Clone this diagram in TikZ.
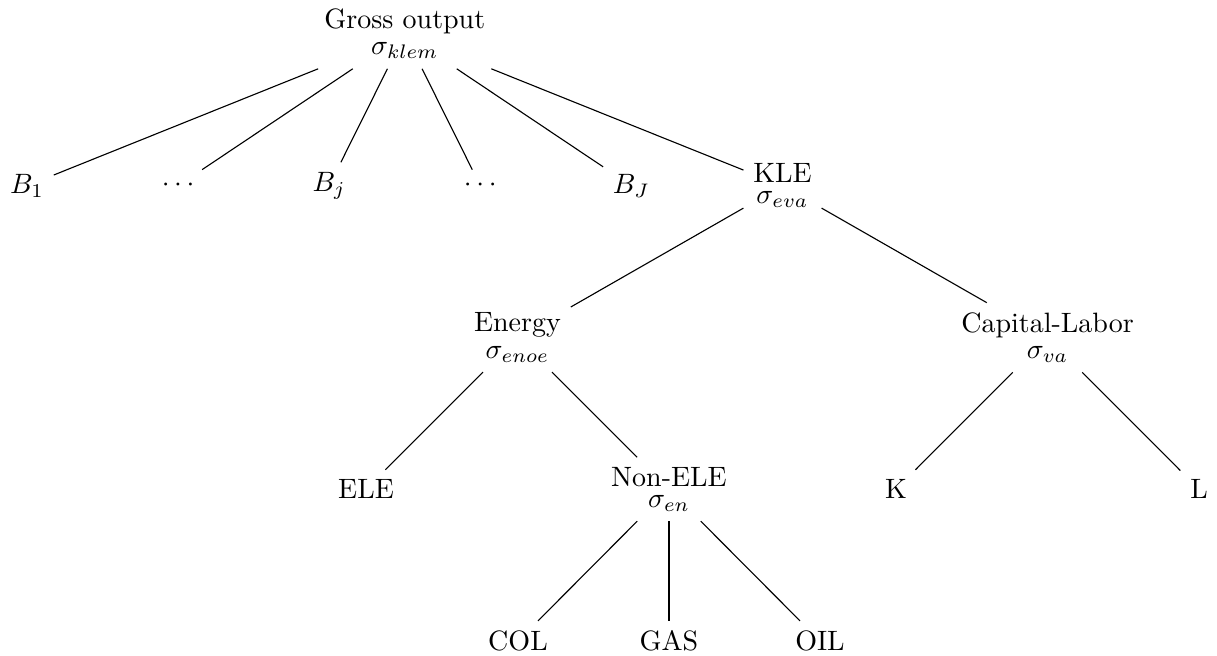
\documentclass[tikz,border=0pt]{standalone}
\begin{document}
\begin{tikzpicture}[x=0.357pt,y=-0.357pt,
  tn/.style={inner sep=0.333em},
  edge/.style={draw=black,line width=0.4pt}]
\useasboundingbox (0,0) rectangle (1217,656);
% level 0
\node[tn] (g) at (404.75,34) {\shortstack{Gross output\\$\sigma_{klem}$}};
% level 1
\node[tn] (b1) at (27,185.75) {$B_1$};
\node[tn] (d1) at (178.1,185.75) {$\cdots$};
\node[tn] (bj) at (329.2,185.75) {$B_j$};
\node[tn] (d2) at (480.3,185.75) {$\cdots$};
\node[tn] (bJ) at (631.4,185.75) {$B_J$};
\node[tn] (kle) at (782.5,185.75) {\shortstack{KLE\\$\sigma_{eva}$}};
% level 2
\node[tn] (en) at (517.5,337.5) {\shortstack{Energy\\$\sigma_{enoe}$}};
\node[tn] (cl) at (1047.5,337.5) {\shortstack{Capital-Labor\\$\sigma_{va}$}};
% level 3
\node[tn] (ele) at (366,489.25) {ELE};
\node[tn] (nele) at (669,489.25) {\shortstack{Non-ELE\\$\sigma_{en}$}};
\node[tn] (k) at (896,489.25) {K};
\node[tn] (l) at (1199,489.25) {L};
% level 4
\node[tn] (col) at (518,641) {COL};
\node[tn] (gas) at (669,641) {GAS};
\node[tn] (oil) at (820,641) {OIL};
% edges
\foreach \c in {b1,d1,bj,d2,bJ,kle} \draw[edge] (g) -- (\c);
\foreach \c in {en,cl} \draw[edge] (kle) -- (\c);
\foreach \c in {ele,nele} \draw[edge] (en) -- (\c);
\foreach \c in {k,l} \draw[edge] (cl) -- (\c);
\foreach \c in {col,gas,oil} \draw[edge] (nele) -- (\c);
\end{tikzpicture}
\end{document}
